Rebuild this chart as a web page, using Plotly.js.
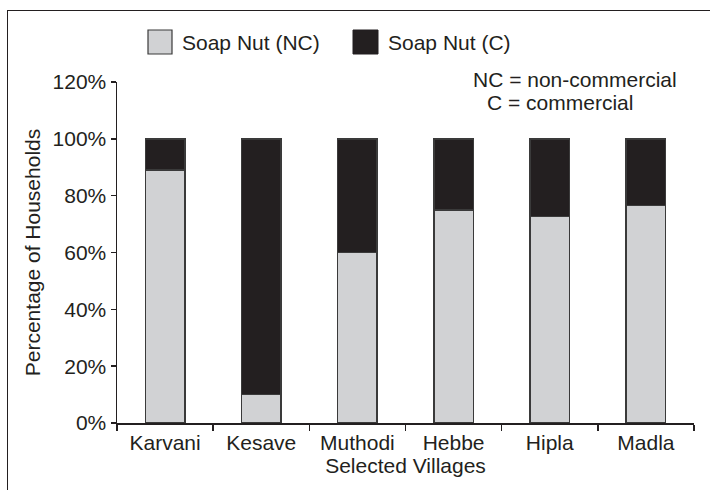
<!DOCTYPE html>
<html>
<head>
<meta charset="utf-8">
<script src="https://cdn.plot.ly/plotly-3.0.1.min.js"></script>
<style>
  html, body { margin: 0; padding: 0; background: #fff; }
  #wrap { position: relative; width: 710px; height: 490px; }
  #chart { width: 710px; height: 490px; }
  #frame { position: absolute; left: 7px; top: 10px; width: 710px; height: 490px;
           border-top: 1.5px solid #231f20; border-left: 1.5px solid #231f20; pointer-events: none; }
</style>
</head>
<body>
<div id="wrap">
  <div id="chart"></div>
  <div id="frame"></div>
</div>
<script>
const categories = ['Karvani', 'Kesave', 'Muthodi', 'Hebbe', 'Hipla', 'Madla'];
const soapNutNC = [0.89, 0.10, 0.60, 0.75, 0.727, 0.765];
const soapNutC  = [0.11, 0.90, 0.40, 0.25, 0.273, 0.235];
const yTickVals = [0, 0.2, 0.4, 0.6, 0.8, 1.0, 1.2];
const yTickText = ['0%', '20%', '40%', '60%', '80%', '100%', '120%'];

const W = 710, H = 490;
const M = { l: 117, r: 16, t: 82, b: 67 };
const pw = W - M.l - M.r, ph = H - M.t - M.b;
const px = x => (x - M.l) / pw;
const py = y => (H - M.b - y) / ph;

const ink = '#231f20';
const fontFam = '"Liberation Sans", Arial, Helvetica, sans-serif';
const lightGray = '#d1d2d4';
const FS = 21;

const traces = [
  { type: 'bar', name: 'Soap Nut (NC)', x: categories, y: soapNutNC,
    marker: { color: lightGray, line: { color: '#3a3a3a', width: 1.5 } }, showlegend: false },
  { type: 'bar', name: 'Soap Nut (C)', x: categories, y: soapNutC,
    marker: { color: ink, line: { color: '#3a3a3a', width: 1.5 } }, showlegend: false }
];

const layout = {
  width: W, height: H,
  margin: M,
  paper_bgcolor: '#fff', plot_bgcolor: '#fff',
  barmode: 'stack',
  bargap: 0.59,
  font: { family: fontFam, color: ink, size: FS },
  xaxis: {
    type: 'category', range: [-0.5, 5.5],
    showline: true, linecolor: ink, linewidth: 1.5,
    ticks: 'outside', tickson: 'boundaries', ticklen: 6, tickcolor: ink, tickwidth: 1.5,
    showgrid: false, zeroline: false,
    tickfont: { size: FS, color: ink },
    title: { text: 'Selected Villages', font: { size: FS, color: ink }, standoff: 0 }
  },
  yaxis: {
    range: [0, 1.2],
    tickvals: yTickVals, ticktext: yTickText,
    showline: true, linecolor: ink, linewidth: 1.5,
    ticks: 'outside', ticklen: 5, tickcolor: ink, tickwidth: 1.5,
    showgrid: false, zeroline: false,
    tickfont: { size: FS, color: ink },
    title: { text: 'Percentage of Households', font: { size: FS, color: ink }, standoff: 6 }
  },
  shapes: [
    { type: 'rect', xref: 'paper', yref: 'paper', x0: px(148), x1: px(172), y0: py(54), y1: py(30),
      fillcolor: lightGray, line: { color: '#3a3a3a', width: 1.2 } },
    { type: 'rect', xref: 'paper', yref: 'paper', x0: px(353), x1: px(378), y0: py(54), y1: py(30),
      fillcolor: ink, line: { color: ink, width: 1 } }
  ],
  annotations: [
    { xref: 'paper', yref: 'paper', x: px(180), y: py(42), xanchor: 'left', yanchor: 'middle',
      text: 'Soap Nut (NC)', showarrow: false, font: { size: FS, color: ink } },
    { xref: 'paper', yref: 'paper', x: px(386), y: py(42), xanchor: 'left', yanchor: 'middle',
      text: 'Soap Nut (C)', showarrow: false, font: { size: FS, color: ink } },
    { xref: 'paper', yref: 'paper', x: px(471), y: py(79), xanchor: 'left', yanchor: 'middle',
      text: 'NC = non-commercial', showarrow: false, font: { size: FS, color: ink } },
    { xref: 'paper', yref: 'paper', x: px(485), y: py(103), xanchor: 'left', yanchor: 'middle',
      text: 'C = commercial', showarrow: false, font: { size: FS, color: ink } }
  ]
};

Plotly.newPlot('chart', traces, layout, { displayModeBar: false, staticPlot: true });
</script>
</body>
</html>
